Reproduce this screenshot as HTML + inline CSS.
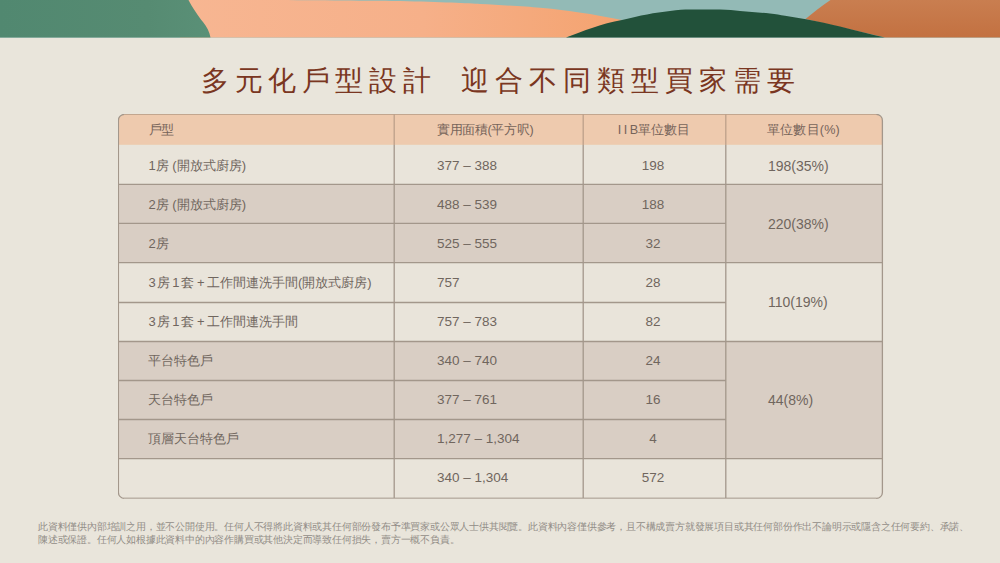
<!DOCTYPE html>
<html>
<head>
<meta charset="utf-8">
<style>
html,body{margin:0;padding:0;}
body{width:1000px;height:563px;overflow:hidden;background:#E9E5DB;font-family:"Liberation Sans",sans-serif;position:relative;}
#banner{position:absolute;left:0;top:0;width:1000px;height:38px;display:block;}
#title{position:absolute;left:0;top:61px;width:1000px;height:40px;font-size:28px;line-height:40px;color:#7A3621;white-space:nowrap;}
#title span{position:absolute;top:0;}
#tbl{position:absolute;left:118px;top:114px;width:766px;height:386px;}
.c{position:absolute;height:20px;line-height:20px;font-size:13px;color:#70665E;white-space:nowrap;}
.ctr{width:140px;text-align:center;}
.n{font-size:13.5px;}
.h{font-size:12.6px;letter-spacing:-0.35px;color:#76645A;}
#foot{position:absolute;left:38px;top:520px;font-size:9.8px;line-height:13px;letter-spacing:-0.2px;color:#928D87;white-space:nowrap;}
</style>
</head>
<body>
<svg id="banner" width="1000" height="38" viewBox="0 0 1000 38">
  <defs>
    <linearGradient id="pg" x1="0" y1="0" x2="1" y2="0">
      <stop offset="0" stop-color="#F7B692"/>
      <stop offset="0.55" stop-color="#F6B089"/>
      <stop offset="1" stop-color="#F4A370"/>
    </linearGradient>
    <linearGradient id="gg" x1="0" y1="0" x2="1" y2="0">
      <stop offset="0" stop-color="#518870"/>
      <stop offset="0.7" stop-color="#568B72"/>
      <stop offset="1" stop-color="#5A9077"/>
    </linearGradient>
    <linearGradient id="og" x1="0" y1="0" x2="0" y2="1">
      <stop offset="0" stop-color="#C97E50"/>
      <stop offset="1" stop-color="#C37141"/>
    </linearGradient>
  </defs>
  <rect x="0" y="0" width="1000" height="37.6" fill="#93BAB6"/>
  <path d="M180 0 L278 0 C330 0.4 380 0.8 400 1 C440 2 470 3.3 480 4 C500 5 525 6.5 540 7.7 C555 9 570 11 590 14 C600 15.8 612 18 622 20 L566 37.6 L180 37.6 Z" fill="url(#pg)"/>
  <path d="M0 0 L188.5 0 C192 7 199 17 203 22 C207 27 209.5 32 210.5 37.6 L0 37.6 Z" fill="url(#gg)"/>
  <path d="M830.5 0 L1000 0 L1000 37.6 L885 37.6 L805.5 19 C813 12.5 822 6 830.5 0 Z" fill="url(#og)"/>
  <path d="M566 37.6 C575 34 584 30.5 592 28 C602 24.5 612 21.5 622 20 C640 15.5 655 12.5 670 11 C678 10 684 9.7 690 9.6 C700 9.4 712 9.5 720 9.6 C728 9.8 734 10.3 740 11 C750 11.8 760 12.5 770 13.5 C776 14.2 780 15 785 15.8 C792 17 799 18 806 19.2 C818 21.5 830 24 840 26.5 C856 30.5 870 34 885 37.6 Z" fill="#22513A"/>
</svg>

<div id="title">
  <span style="left:201px;letter-spacing:5.6px">多元化戶型設計</span>
  <span style="left:461px;letter-spacing:6px">迎合不同類型買家需要</span>
</div>

<div id="tbl">
  <svg width="766" height="386" viewBox="0 0 766 386" style="position:absolute;left:0;top:0">
    <defs>
      <clipPath id="rc"><rect x="0.4" y="0.4" width="764" height="384" rx="6" ry="6"/></clipPath>
    </defs>
    <g clip-path="url(#rc)">
      <rect x="0" y="0" width="766" height="30.9" fill="#EECAAE"/>
      <rect x="0" y="30.9" width="766" height="39.5" fill="#E9E4DA"/>
      <rect x="0" y="70.4" width="766" height="78.2" fill="#D9CEC4"/>
      <rect x="0" y="148.6" width="766" height="78.9" fill="#E9E4DA"/>
      <rect x="0" y="227.5" width="766" height="117.2" fill="#D9CEC4"/>
      <rect x="0" y="344.7" width="766" height="41.3" fill="#E9E4DA"/>
    </g>
    <g stroke="#A3978B" stroke-width="1.3" fill="none">
      <rect x="0.4" y="0.4" width="764" height="384" rx="6" ry="6"/>
      <line x1="6" y1="0.4" x2="758.4" y2="0.4" stroke="#C2A68F"/>
      <line x1="276.2" y1="0" x2="276.2" y2="30.9" stroke="#BCA08A"/>
      <line x1="465.2" y1="0" x2="465.2" y2="30.9" stroke="#BCA08A"/>
      <line x1="607.8" y1="0" x2="607.8" y2="30.9" stroke="#BCA08A"/>
      <line x1="6" y1="384.4" x2="758.4" y2="384.4" stroke="#BDB3A8"/>
      <line x1="276.2" y1="30.9" x2="276.2" y2="384"/>
      <line x1="465.2" y1="30.9" x2="465.2" y2="384"/>
      <line x1="607.8" y1="30.9" x2="607.8" y2="384"/>
      <line x1="0" y1="70.4" x2="765" y2="70.4"/>
      <line x1="0" y1="148.6" x2="765" y2="148.6"/>
      <line x1="0" y1="227.5" x2="765" y2="227.5"/>
      <line x1="0" y1="344.7" x2="765" y2="344.7"/>
      <line x1="0" y1="109.4" x2="607.8" y2="109.4"/>
      <line x1="0" y1="188.5" x2="607.8" y2="188.5"/>
      <line x1="0" y1="266.5" x2="607.8" y2="266.5"/>
      <line x1="0" y1="305.5" x2="607.8" y2="305.5"/>
    </g>
  </svg>
</div>
<div class="c h" style="left:148.5px;top:120px;">戶型</div>
<div class="c h" style="left:437px;top:120px;">實用面積(平方呎)</div>
<div class="c h ctr" style="left:584px;top:120px;letter-spacing:0;"><span style="letter-spacing:2.5px">II</span>B單位數目</div>
<div class="c h" style="left:767px;top:120px;letter-spacing:0.2px;">單位數目(%)</div>
<div class="c" style="left:148.5px;top:156.1px;">1房 (開放式廚房)</div>
<div class="c n" style="left:437px;top:156.1px;">377 – 388</div>
<div class="c n ctr" style="left:583px;top:156.1px;">198</div>
<div class="c" style="left:148.5px;top:195.1px;">2房 (開放式廚房)</div>
<div class="c n" style="left:437px;top:195.1px;">488 – 539</div>
<div class="c n ctr" style="left:583px;top:195.1px;">188</div>
<div class="c" style="left:148.5px;top:234.1px;">2房</div>
<div class="c n" style="left:437px;top:234.1px;">525 – 555</div>
<div class="c n ctr" style="left:583px;top:234.1px;">32</div>
<div class="c" style="left:148.5px;top:273.1px;">3<span style="margin-left:1.5px">房</span><span style="margin:0 2px">1</span>套<span style="word-spacing:-1.2px"> + </span>工作間連洗手間(開放式廚房)</div>
<div class="c n" style="left:437px;top:273.1px;">757</div>
<div class="c n ctr" style="left:583px;top:273.1px;">28</div>
<div class="c" style="left:148.5px;top:312.1px;">3<span style="margin-left:1.5px">房</span><span style="margin:0 2px">1</span>套<span style="word-spacing:-1.2px"> + </span>工作間連洗手間</div>
<div class="c n" style="left:437px;top:312.1px;">757 – 783</div>
<div class="c n ctr" style="left:583px;top:312.1px;">82</div>
<div class="c" style="left:148px;top:351.1px;">平台特色戶</div>
<div class="c n" style="left:437px;top:351.1px;">340 – 740</div>
<div class="c n ctr" style="left:583px;top:351.1px;">24</div>
<div class="c" style="left:148px;top:390.1px;">天台特色戶</div>
<div class="c n" style="left:437px;top:390.1px;">377 – 761</div>
<div class="c n ctr" style="left:583px;top:390.1px;">16</div>
<div class="c" style="left:148px;top:429.1px;">頂層天台特色戶</div>
<div class="c n" style="left:437px;top:429.1px;">1,277 – 1,304</div>
<div class="c n ctr" style="left:583px;top:429.1px;">4</div>
<div class="c n" style="left:437px;top:468.1px;">340 – 1,304</div>
<div class="c n ctr" style="left:583px;top:468.1px;">572</div>
<div class="c n" style="left:768px;top:156.1px;font-size:14px;">198(35%)</div>
<div class="c n" style="left:768px;top:214px;font-size:14px;">220(38%)</div>
<div class="c n" style="left:768px;top:291.6px;font-size:14px;">110(19%)</div>
<div class="c n" style="left:768px;top:390px;font-size:14px;">44(8%)</div>

<div id="foot">此資料僅供內部培訓之用，並不公開使用。任何人不得將此資料或其任何部份發布予準買家或公眾人士供其閱覽。此資料內容僅供參考，且不構成賣方就發展項目或其任何部份作出不論明示或隱含之任何要約、承諾、<br>陳述或保證。任何人如根據此資料中的內容作購買或其他決定而導致任何損失，賣方一概不負責。</div>
</body>
</html>
